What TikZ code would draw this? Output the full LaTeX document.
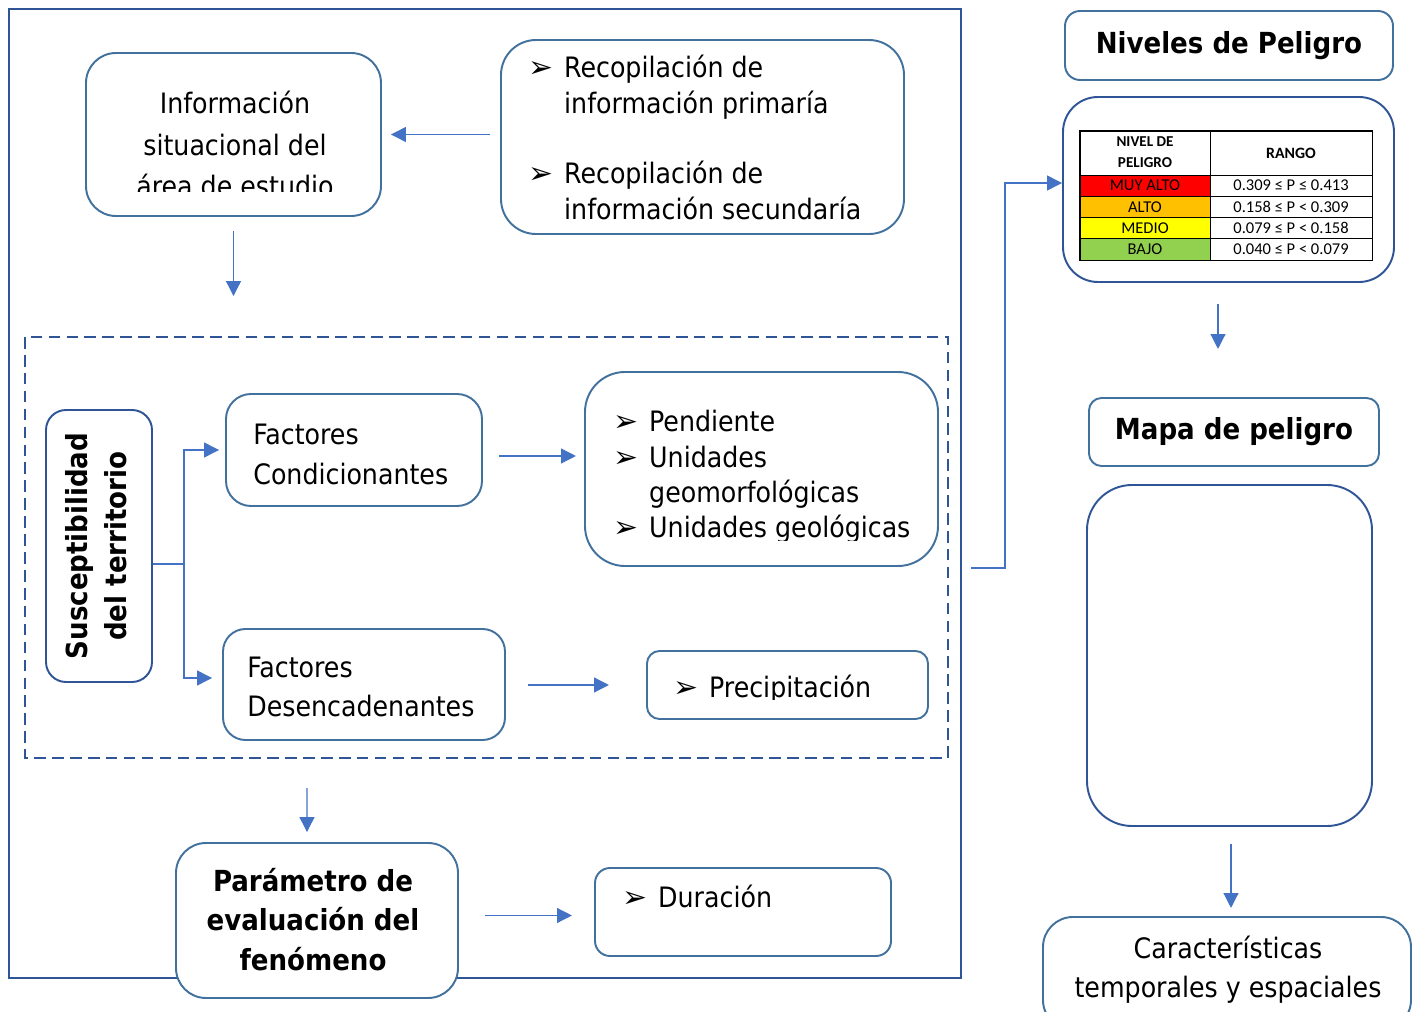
\documentclass[tikz,border=0pt]{standalone}
\usepackage{fontspec}
\setmainfont{DejaVu Sans Condensed}
\newfontfamily\flechafont{DejaVu Sans}
\newfontfamily\tablafont{Carlito}
\usetikzlibrary{arrows.meta}

\definecolor{borde}{HTML}{41719C}
\definecolor{bordeosc}{HTML}{2F5597}
\definecolor{azulflecha}{HTML}{4472C4}
\definecolor{rojo}{HTML}{FF0000}
\definecolor{naranja}{HTML}{FFC000}
\definecolor{amarillo}{HTML}{FFFF00}
\definecolor{verde}{HTML}{92D050}

\newcommand{\vin}{\makebox[20.4pt][l]{\flechafont\fontsize{17}{17}\selectfont ➢}}
\newcommand{\bloque}[2]{\begin{tabular}[t]{@{}#1@{}}#2\end{tabular}}

\tikzset{
    caja/.style={rectangle, draw=borde, line width=1.1pt, fill=white, inner sep=0pt},
    flecha/.style={draw=azulflecha, line width=0.75pt, -{Triangle[length=8.5pt,width=8.5pt]}},
    texto/.style={inner sep=0pt, font=\fontsize{16}{#1}\selectfont},
    texto/.default=20.4,
    titulo/.style={inner sep=0pt, font=\fontsize{16.5}{22.7}\selectfont\bfseries},
    celda/.style={rectangle, draw=black, line width=0.5pt, inner sep=0pt, font=\tablafont\fontsize{9.4}{11.9}\selectfont}
}

\begin{document}
\begin{tikzpicture}

        \useasboundingbox (0,0) rectangle (28.36,-20.24);
        \clip (0,0) rectangle (28.36,-20.24);

        % marcos
        \draw[bordeosc, line width=1.4pt] (0.18,-0.18) rectangle (19.22,-19.56);
        \draw[bordeosc, line width=1.1pt, dash pattern=on 6.6pt off 3.6pt] (0.50,-6.74) rectangle (18.96,-15.16);

        \node[caja, rounded corners=0.6cm, minimum width=5.9cm, minimum height=3.26cm] (info) at (4.67,-2.69) {};
        \begin{scope}
            \clip (1.72,-1.06) rectangle (7.62,-3.83);
            \node[texto=23.5, anchor=base] (infotxt) at (4.70,-2.28) {\bloque{c}{Información\\situacional del\\área de estudio}};
        \end{scope}

        \node[caja, rounded corners=0.7cm, minimum width=8.06cm, minimum height=3.88cm] (recop) at (14.05,-2.74) {};
        \node[texto, anchor=base west] (recoptxt) at (10.56,-1.56) {\bloque{l@{}l}{\vin & Recopilación de\\ & información primaría\\[19.3pt] \vin & Recopilación de\\ & información secundaría}};

        \node[caja, draw=bordeosc, rounded corners=0.4cm, minimum width=2.12cm, minimum height=5.44cm] (susc) at (1.98,-10.92) {};
        \node[titulo, rotate=90] (susctxt) at (susc.center) {\bloque{c}{Susceptibilidad\\del territorio}};

        \node[caja, rounded corners=0.5cm, minimum width=5.12cm, minimum height=2.24cm] (condic) at (7.08,-9.00) {};
        \node[texto=23.2, anchor=base west] (condictxt) at (5.06,-8.88) {\bloque{l}{Factores\\Condicionantes}};

        \node[caja, rounded corners=0.8cm, minimum width=7.06cm, minimum height=3.88cm] (pend) at (15.23,-9.38) {};
        \begin{scope}
            \clip (11.7,-7.44) rectangle (18.76,-10.80);
            \node[texto=20, anchor=base west] (pendtxt) at (12.26,-8.64) {\bloque{l@{}l}{\vin & Pendiente\\ \vin & Unidades\\ & geomorfológicas\\ \vin & Unidades geológicas}};
        \end{scope}

        \node[caja, rounded corners=0.45cm, minimum width=5.64cm, minimum height=2.22cm] (desenc) at (7.28,-13.69) {};
        \node[texto=22.7, anchor=base west] (desenctxt) at (4.94,-13.54) {\bloque{l}{Factores\\Desencadenantes}};

        \node[caja, rounded corners=0.25cm, minimum width=5.62cm, minimum height=1.36cm] (precip) at (15.75,-13.70) {};
        \begin{scope}
            \clip (12.94,-13.02) rectangle (18.56,-13.98);
            \node[texto, anchor=base west] (preciptxt) at (13.46,-13.94) {\vin Precipitación};
        \end{scope}

        \node[caja, rounded corners=0.6cm, minimum width=5.64cm, minimum height=3.10cm] (param) at (6.34,-18.41) {};
        \node[titulo, anchor=base] (paramtxt) at (6.26,-17.82) {\bloque{c}{Parámetro de\\evaluación del\\fenómeno}};

        \node[caja, rounded corners=0.3cm, minimum width=5.92cm, minimum height=1.76cm] (durac) at (14.86,-18.24) {};
        \node[texto, anchor=base west] (durtxt) at (12.44,-18.14) {\vin Duración};

        % lado derecho
        \node[caja, rounded corners=0.3cm, minimum width=6.56cm, minimum height=1.38cm, titulo] (niveles) at (24.58,-0.91) {Niveles de Peligro};
        \node[caja, draw=bordeosc, rounded corners=0.7cm, minimum width=6.62cm, minimum height=3.70cm] (tabla) at (24.57,-3.79) {};

        \node[celda, minimum width=2.6cm, minimum height=0.88cm, font=\tablafont\fontsize{8.6}{11.9}\selectfont\bfseries] (hnivel) at (22.90,-3.06) {\bloque{c}{NIVEL DE\\PELIGRO}};
        \node[celda, minimum width=3.24cm, minimum height=0.88cm, font=\tablafont\fontsize{9}{11.9}\selectfont\bfseries] (hrango) at (25.82,-3.06) {RANGO};
        \foreach \nivel/\rango/\tono [count=\i] in {MUY ALTO/{0.309 ≤ P ≤ 0.413}/rojo, ALTO/{0.158 ≤ P < 0.309}/naranja, MEDIO/{0.079 ≤ P < 0.158}/amarillo, BAJO/{0.040 ≤ P < 0.079}/verde}
        {
            \node[celda, fill=\tono, minimum width=2.6cm, minimum height=0.425cm] (nivel\i) at (22.90,-3.2875-0.425*\i) {\nivel};
            \node[celda, minimum width=3.24cm, minimum height=0.425cm] (rango\i) at (25.82,-3.2875-0.425*\i) {\rango};
        }
        \draw[line width=0.9pt] (hnivel.north west) rectangle (rango4.south east);

        \node[caja, rounded corners=0.25cm, minimum width=5.80cm, minimum height=1.36cm, titulo] (mapa) at (24.68,-8.64) {Mapa de peligro};
        \node[caja, draw=bordeosc, rounded corners=0.9cm, minimum width=5.70cm, minimum height=6.82cm] (vacio) at (24.59,-13.11) {};

        \node[caja, rounded corners=0.6cm, minimum width=7.36cm, minimum height=2.26cm] (caract) at (24.54,-19.47) {};
        \node[texto=22.7, anchor=base] (caracttxt) at (24.56,-19.16) {\bloque{c}{Características\\temporales y espaciales}};

        % flechas
        \coordinate (finInfo) at (4.67,-5.92);
        \coordinate (iniParam) at (6.14,-15.76);
        \coordinate (iniDer) at (19.42,-11.36);

        \draw[flecha] ([xshift=-0.2cm]recop.west |- info.east) -- ([xshift=0.18cm]info.east);
        \draw[flecha] ([yshift=-0.28cm]info.south) -- (finInfo);
        \draw[flecha] ([yshift=-0.36cm]susc.east) -- ++(0.62,0) |- ([xshift=-0.12cm]condic.west);
        \draw[flecha] ([yshift=-0.36cm]susc.east) -- ++(0.62,0) |- ([xshift=-0.2cm,yshift=0.13cm]desenc.west);
        \draw[flecha] ([xshift=0.32cm,yshift=-0.12cm]condic.east) -- ++(1.54,0);
        \draw[flecha] ([xshift=0.44cm,yshift=-0.01cm]desenc.east) -- ++(1.62,0);
        \draw[flecha] (iniParam) -- ([xshift=-0.2cm,yshift=0.2cm]param.north);
        \draw[flecha] ([xshift=0.52cm,yshift=0.1cm]param.east) -- ++(1.74,0);
        \draw[flecha] (iniDer) -- ++(0.68,0) |- ([yshift=0.13cm]tabla.west);
        \draw[flecha] ([xshift=-0.21cm,yshift=-0.42cm]tabla.south) -- ++(0,-0.9);
        \draw[flecha] ([xshift=0.03cm,yshift=-0.34cm]vacio.south) -- ++(0,-1.28);

\end{tikzpicture}
\end{document}
